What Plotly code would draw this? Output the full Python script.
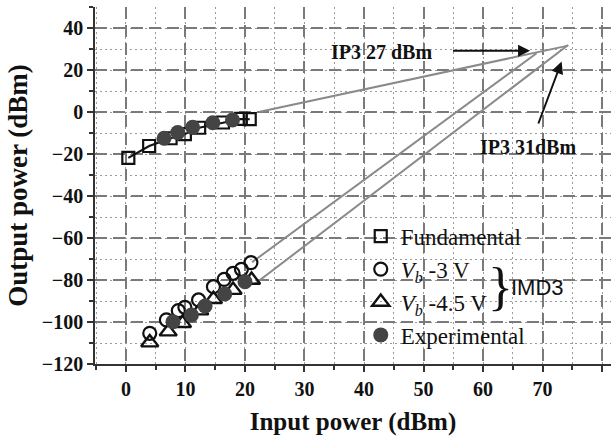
import plotly.graph_objects as go

# ---- data ----
fund_x = [0.4, 3.9, 7.5, 9.9, 12.3, 16.3, 19.3, 20.8]
fund_y = [-21.8, -16.2, -12.5, -10.5, -7.5, -5.0, -3.3, -3.4]

vb3_x = [4.0, 6.8, 8.8, 9.9, 12.2, 14.7, 16.5, 18.0, 19.4, 21.0]
vb3_y = [-105.4, -99.0, -94.6, -93.0, -89.5, -83.2, -79.7, -76.8, -74.9, -71.7]

vb45_x = [4.0, 7.1, 9.5, 12.4, 14.7, 18.0, 21.1]
vb45_y = [-109.8, -104.6, -100.6, -94.6, -89.2, -84.8, -80.0]

exp_x = [6.4, 8.7, 11.2, 14.6, 17.9, 7.9, 11.0, 13.3, 16.6, 20.0]
exp_y = [-12.5, -9.8, -7.3, -5.1, -3.8, -99.9, -96.7, -92.4, -86.7, -80.8]

# extrapolation lines (start, end)
fund_ext_x = [22.5, 74.3]
fund_ext_y = [0.1, 31.6]
vb3_ext_x = [21.2, 69.0]
vb3_ext_y = [-71.5, 28.0]
vb45_ext_x = [21.6, 74.3]
vb45_ext_y = [-82.0, 31.9]

x_ticks = [0, 10, 20, 30, 40, 50, 60, 70, 80]
y_ticks = [40, 20, 0, -20, -40, -60, -80, -100, -120]

SERIF = "Liberation Serif"
GREY = "#8a8a8a"

fig = go.Figure()

# extrapolation lines
for ex, ey in [(fund_ext_x, fund_ext_y), (vb3_ext_x, vb3_ext_y), (vb45_ext_x, vb45_ext_y)]:
    fig.add_trace(go.Scatter(x=ex, y=ey, mode="lines", line=dict(color=GREY, width=2),
                             showlegend=False, hoverinfo="skip"))

# fundamental connecting line
fig.add_trace(go.Scatter(x=fund_x, y=fund_y, mode="lines", line=dict(color="#111", width=2),
                         showlegend=False, hoverinfo="skip"))

fig.add_trace(go.Scatter(x=fund_x, y=fund_y, mode="markers", name="Fundamental",
                         marker=dict(symbol="square-open", size=12, color="#111",
                                     line=dict(width=2.2, color="#111"))))
fig.add_trace(go.Scatter(x=vb3_x, y=vb3_y, mode="markers",
                         name="<i>V</i><sub><i>b</i></sub> -3 V",
                         marker=dict(symbol="circle-open", size=13, color="#111",
                                     line=dict(width=2.2, color="#111"))))
fig.add_trace(go.Scatter(x=vb45_x, y=vb45_y, mode="markers",
                         name="<i>V</i><sub><i>b</i></sub> -4.5 V",
                         marker=dict(symbol="triangle-up-open", size=15, color="#111",
                                     line=dict(width=2.4, color="#111"))))
fig.add_trace(go.Scatter(x=exp_x, y=exp_y, mode="markers", name="Experimental",
                         marker=dict(symbol="circle", size=15, color="#444",
                                     line=dict(width=0))))

# IP3 annotations
fig.add_annotation(x=42.9, y=28.6, text="<b>IP3 27 dBm</b>", showarrow=False,
                   font=dict(family=SERIF, size=20, color="#111"))
fig.add_annotation(x=67.9, y=29.2, ax=54.7, ay=29.2, axref="x", ayref="y",
                   text="", showarrow=True, arrowhead=2, arrowsize=1.2, arrowwidth=2,
                   arrowcolor="#111")
fig.add_annotation(x=67.6, y=-16.7, text="<b>IP3 31dBm</b>", showarrow=False,
                   font=dict(family=SERIF, size=20, color="#111"))
fig.add_annotation(x=73.2, y=24.0, ax=69.2, ay=-6.2, axref="x", ayref="y",
                   text="", showarrow=True, arrowhead=2, arrowsize=1.2, arrowwidth=2,
                   arrowcolor="#111")

# brace + IMD3
fig.add_annotation(x=62.9, y=-83.0, text="}", showarrow=False,
                   font=dict(family=SERIF, size=52, color="#111"))
fig.add_annotation(x=64.3, y=-83.8, text="IMD3", showarrow=False, xanchor="left",
                   font=dict(family="Liberation Sans", size=22, color="#111"))

fig.update_layout(
    width=611, height=440,
    margin=dict(l=95, r=0, t=7, b=76),
    paper_bgcolor="white", plot_bgcolor="white",
    font=dict(family=SERIF, color="#111"),
    legend=dict(x=0.515, y=0.418, xanchor="left", yanchor="top",
                bgcolor="rgba(255,255,255,0)", font=dict(family=SERIF, size=23, color="#111"),
                itemsizing="trace", tracegroupgap=0),
    xaxis=dict(
        range=[-5.2, 81.5], tickvals=x_ticks, showgrid=True,
        gridcolor="#7a7a7a", griddash="12px,6px", gridwidth=1.5,
        minor=dict(dtick=5, tick0=0, showgrid=True, gridcolor="#9a9a9a",
                   griddash="2px,3px", gridwidth=1.3, ticks="outside", ticklen=4,
                   tickcolor="#333"),
        ticks="outside", ticklen=6, tickcolor="#333", tickwidth=1.5,
        showline=True, linecolor="#333", linewidth=1.6, zeroline=False,
        tickfont=dict(family=SERIF, size=20, weight="bold", color="#111"),
        title=dict(text="<b>Input power (dBm)</b>", standoff=14,
                   font=dict(family=SERIF, size=25, color="#111")),
    ),
    yaxis=dict(
        range=[-120, 50], tickvals=y_ticks, showgrid=True,
        gridcolor="#7a7a7a", griddash="12px,6px", gridwidth=1.5,
        minor=dict(dtick=10, tick0=-110, showgrid=True, gridcolor="#9a9a9a",
                   griddash="2px,3px", gridwidth=1.3, ticks="outside", ticklen=4,
                   tickcolor="#333"),
        ticks="outside", ticklen=6, tickcolor="#333", tickwidth=1.5,
        showline=True, linecolor="#333", linewidth=1.6, zeroline=False,
        tickfont=dict(family=SERIF, size=20, weight="bold", color="#111"),
        title=dict(text="<b>Output power (dBm)</b>", standoff=6,
                   font=dict(family=SERIF, size=27, color="#111")),
    ),
)

fig.write_html("out.html")
